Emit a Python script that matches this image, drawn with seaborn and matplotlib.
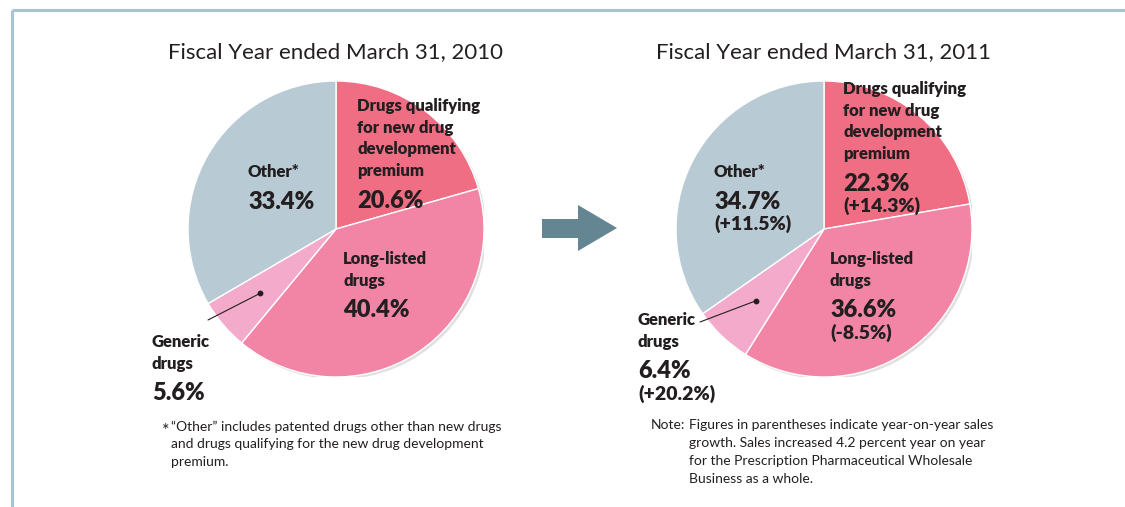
import matplotlib
matplotlib.use("Agg")
import matplotlib.pyplot as plt
from matplotlib.patches import Circle, Polygon
import numpy as np
import seaborn as sns

sns.set_theme(style="white")
plt.rcParams["font.family"] = ["Lato", "DejaVu Sans"]

# Sales composition by drug category
categories = ["Drugs qualifying for new drug development premium",
              "Long-listed drugs", "Generic drugs", "Other*"]
share_2010 = [20.6, 40.4, 5.6, 33.4]
share_2011 = [22.3, 36.6, 6.4, 34.7]
growth_2011 = [14.3, -8.5, 20.2, 11.5]
titles = ["Fiscal Year ended March 31, 2010", "Fiscal Year ended March 31, 2011"]
colors = ["#ef6e84", "#f285a6", "#f4abcb", "#b8cad3"]

TEXT = "#231f20"
W, H = 1125, 507
fig = plt.figure(figsize=(W / 100, H / 100), dpi=100)
fig.patch.set_facecolor("white")

R = 148
centers = [(336, 229), (824, 229)]


def pie_axes(cx, cy):
    return fig.add_axes([(cx - R) / W, (H - cy - R) / H, 2 * R / W, 2 * R / H])


pies = []
for (cx, cy), vals in zip(centers, [share_2010, share_2011]):
    ax = pie_axes(cx, cy)
    ax.add_patch(Circle((0.016, -0.016), 1.0, color="#9a9a9a", alpha=0.3, zorder=0, lw=0))
    wedges, _ = ax.pie(vals, colors=colors, startangle=90, counterclock=False,
                       radius=1.0, wedgeprops=dict(edgecolor="white", linewidth=1.0))
    ax.set_xlim(-1, 1)
    ax.set_ylim(-1, 1)
    ax.set_aspect("equal")
    ax.axis("off")
    pies.append((ax, wedges))

# Overlay in pixel coordinates for annotations
ov = fig.add_axes([0, 0, 1, 1])
ov.set_xlim(0, W)
ov.set_ylim(H, 0)
ov.axis("off")
ov.patch.set_alpha(0)

# Frame lines
ov.plot([12, W], [10, 10], color="#a9c3d2", lw=2.2, solid_capstyle="butt")
ov.plot([12, 12], [10, H], color="#a9c3d2", lw=2.2, solid_capstyle="butt")

# Titles
for (cx, cy), t in zip(centers, titles):
    ov.text(cx, 52, t, ha="center", va="center", fontsize=16, color=TEXT)

LAB = dict(fontsize=12, fontweight="heavy", color=TEXT, ha="left", va="center")
PCT = dict(fontsize=17, fontweight="heavy", color=TEXT, ha="left", va="center")
GRW = dict(fontsize=14, fontweight="heavy", color=TEXT, ha="left", va="center")


def label_block(x, y0, lines, value, growth=None):
    y = y0
    for ln in lines:
        ov.text(x, y, ln, **LAB)
        y += 21.7
    y += 8
    ov.text(x, y, f"{value:.1f}%", **PCT)
    if growth is not None:
        ov.text(x, y + 22, f"({growth:+.1f}%)", **GRW)


qual_lines = ["Drugs qualifying", "for new drug", "development", "premium"]
# FY2010
label_block(357, 106, qual_lines, share_2010[0])
label_block(343, 259, ["Long-listed", "drugs"], share_2010[1])
label_block(152, 342, ["Generic", "drugs"], share_2010[2])
label_block(248, 172, ["Other*"], share_2010[3])
# FY2011
label_block(843, 89, qual_lines, share_2011[0], growth_2011[0])
label_block(830, 259, ["Long-listed", "drugs"], share_2011[1], growth_2011[1])
label_block(638, 320, ["Generic", "drugs"], share_2011[2], growth_2011[2])
label_block(714, 172, ["Other*"], share_2011[3], growth_2011[3])


# Leader lines to the generic-drug wedge
def wedge_point(vals, idx, r=0.67):
    start = sum(vals[:idx])
    mid = (start + vals[idx] / 2) / sum(vals) * 2 * np.pi
    return r * np.sin(mid), r * np.cos(mid)


for (ax, wedges), vals, (cx, cy), end in zip(pies, [share_2010, share_2011], centers,
                                             [(208, 320), (700, 322)]):
    px, py = wedge_point(vals, 2)
    ax.plot([px], [py], "o", color=TEXT, ms=3.2, zorder=5)
    dx, dy = cx + px * R, cy - py * R
    ov.plot([end[0], dx], [end[1], dy], color=TEXT, lw=0.8)

# Arrow between the years
ov.add_patch(Polygon([(542, 219), (578, 219), (578, 205), (617, 228),
                      (578, 251), (578, 238), (542, 238)],
                     closed=True, color="#648592", lw=0))

# Footnotes
NOTE = dict(fontsize=10, color=TEXT, ha="left", va="center")
ov.text(162, 431, "*", fontsize=13, color=TEXT, ha="left", va="center")
ov.text(171, 427, "\u201cOther\u201d includes patented drugs other than new drugs", **NOTE)
ov.text(171, 444.5, "and drugs qualifying for the new drug development", **NOTE)
ov.text(171, 462, "premium.", **NOTE)

ov.text(651, 425, "Note:", **NOTE)
note_lines = ["Figures in parentheses indicate year-on-year sales",
              "growth. Sales increased 4.2 percent year on year",
              "for the Prescription Pharmaceutical Wholesale",
              "Business as a whole."]
for i, ln in enumerate(note_lines):
    ov.text(689, 425 + i * 18, ln, **NOTE)

fig.savefig("out.png", dpi=100, facecolor="white")
